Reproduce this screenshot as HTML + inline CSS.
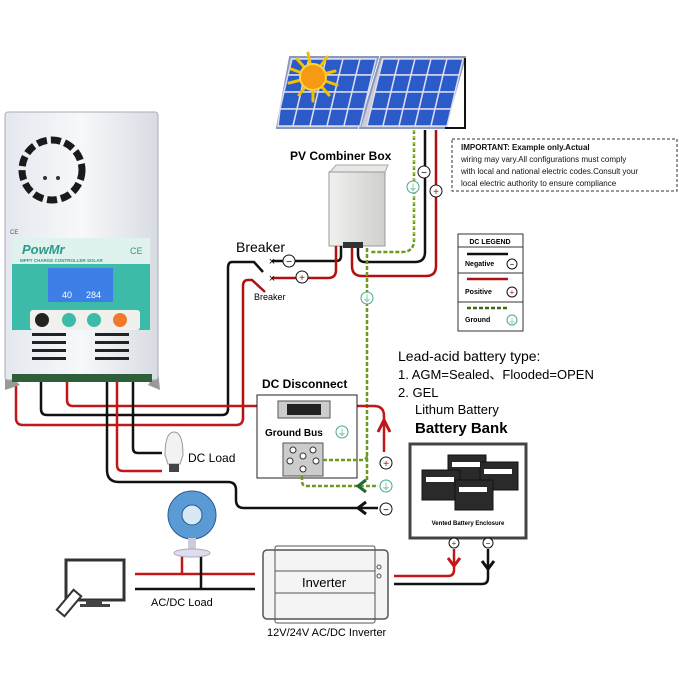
<!DOCTYPE html>
<html><head><meta charset="utf-8"><style>
html,body{margin:0;padding:0;background:#fff}
svg{display:block}
text{font-family:"Liberation Sans",sans-serif}
</style></head><body>
<svg width="679" height="679" viewBox="0 0 679 679" xmlns="http://www.w3.org/2000/svg">
<defs>
<linearGradient id="body" x1="0" x2="1"><stop offset="0" stop-color="#e4e8ee"/><stop offset="0.5" stop-color="#f7f8fa"/><stop offset="1" stop-color="#d8dce2"/></linearGradient>
<linearGradient id="cell" x1="0" y1="0" x2="1" y2="1"><stop offset="0" stop-color="#5d8fe0"/><stop offset="1" stop-color="#1d3f9e"/></linearGradient>
<linearGradient id="box" x1="0" x2="1"><stop offset="0" stop-color="#f0f0ee"/><stop offset="1" stop-color="#cfcfcb"/></linearGradient>
</defs>

<!-- Solar panels -->
<polygon points="290,57 378,57 357,128 277,128" fill="#ccd" stroke="#8899bb" stroke-width="2"/>
<polygon points="381,57 465,57 445,128 360,128" fill="#ccd" stroke="#8899bb" stroke-width="2"/>
<g fill="url(#cell)">
<!-- left panel cells -->
<g id="lp">
</g>
</g>
<g fill="#2a5bc8" stroke="#dde" stroke-width="1.5">
<polygon points="292,59 309,59 305,75 288,75"/><polygon points="309,59 326,59 322,75 305,75"/><polygon points="326,59 343,59 339,75 322,75"/><polygon points="343,59 360,59 356,75 339,75"/><polygon points="360,59 376,59 372,75 356,75"/>
<polygon points="288,75 305,75 301,92 284,92"/><polygon points="305,75 322,75 318,92 301,92"/><polygon points="322,75 339,75 335,92 318,92"/><polygon points="339,75 356,75 352,92 335,92"/><polygon points="356,75 372,75 368,92 352,92"/>
<polygon points="284,92 301,92 297,109 280,109"/><polygon points="301,92 318,92 314,109 297,109"/><polygon points="318,92 335,92 331,109 314,109"/><polygon points="335,92 352,92 348,109 331,109"/><polygon points="352,92 368,92 364,109 348,109"/>
<polygon points="280,109 297,109 293,126 278,126"/><polygon points="297,109 314,109 310,126 293,126"/><polygon points="314,109 331,109 327,126 310,126"/><polygon points="331,109 348,109 344,126 327,126"/><polygon points="348,109 364,109 360,126 344,126"/>
<polygon points="383,59 399,59 395,75 379,75"/><polygon points="399,59 415,59 411,75 395,75"/><polygon points="415,59 431,59 427,75 411,75"/><polygon points="431,59 447,59 443,75 427,75"/><polygon points="447,59 463,59 459,75 443,75"/>
<polygon points="379,75 395,75 391,92 375,92"/><polygon points="395,75 411,75 407,92 391,92"/><polygon points="411,75 427,75 423,92 407,92"/><polygon points="427,75 443,75 439,92 423,92"/><polygon points="443,75 459,75 455,92 439,92"/>
<polygon points="375,92 391,92 387,109 371,109"/><polygon points="391,92 407,92 403,109 387,109"/><polygon points="407,92 423,92 419,109 403,109"/><polygon points="423,92 439,92 435,109 419,109"/><polygon points="439,92 455,92 451,109 435,109"/>
<polygon points="371,109 387,109 383,126 367,126"/><polygon points="387,109 403,109 399,126 383,126"/><polygon points="403,109 419,109 415,126 399,126"/><polygon points="419,109 435,109 431,126 415,126"/><polygon points="435,109 451,109 447,126 431,126"/>
</g>
<polyline points="465,58 465,128 445,128" fill="none" stroke="#111" stroke-width="2"/>
<!-- sun -->
<g stroke="#f2c000" stroke-width="3" fill="none" stroke-linecap="round">
<path d="M313,77 l-5,-24 m5,24 l14,-20 m-14,20 l22,-6 m-22,6 l24,8 m-24,-8 l16,18 m-16,-18 l0,24 m0,-24 l-14,18 m14,-18 l-24,6 m24,-6 l-22,-8 m22,8 l-16,-18"/>
</g>
<circle cx="313" cy="77" r="13" fill="#f59a12" stroke="#ffd23a" stroke-width="2"/>

<!-- PV wires -->
<path d="M414,130 V240 Q414,252 402,252 H370" fill="none" stroke="#6a9a20" stroke-width="2.5" stroke-dasharray="4,2"/>
<path d="M414,130 V240" fill="none" stroke="#e8e070" stroke-width="1" stroke-dasharray="2,4"/>
<path d="M425,130 V252 Q425,262 415,262 H365 Q358,262 358,254 V246" fill="none" stroke="#111" stroke-width="2.5"/>
<path d="M436,130 V266 Q436,276 426,276 H362 Q352,276 352,266 V246" fill="none" stroke="#b01010" stroke-width="2.5"/>
<circle cx="424" cy="172" r="6" fill="#fff" stroke="#111"/><text x="424" y="176" font-size="10" text-anchor="middle">−</text>
<circle cx="436" cy="191" r="6" fill="#fff" stroke="#111"/><text x="436" y="195" font-size="10" fill="#b01010" text-anchor="middle">+</text>
<circle cx="413" cy="187" r="6" fill="#fff" stroke="#4a8"/><text x="413" y="191" font-size="9" fill="#4a8" text-anchor="middle">⏚</text>

<!-- combiner box -->
<text x="290" y="160" font-size="12" font-weight="bold">PV Combiner Box</text>
<polygon points="330,172 336,165 388,165 385,172" fill="#e8e8e6" stroke="#aaa"/>
<rect x="329" y="172" width="56" height="74" fill="url(#box)" stroke="#999"/>
<rect x="343" y="242" width="20" height="6" fill="#333"/>

<!-- breakers -->
<text x="236" y="252" font-size="14">Breaker</text>
<text x="254" y="300" font-size="9">Breaker</text>
<path d="M341,246 V256 Q341,261 336,261 H272" fill="none" stroke="#111" stroke-width="2.5"/>
<path d="M336,246 V270 Q336,278 328,278 H272" fill="none" stroke="#b01010" stroke-width="2.5"/>
<text x="272" y="265" font-size="11" text-anchor="middle">×</text>
<text x="272" y="282" font-size="11" text-anchor="middle">×</text>
<circle cx="289" cy="261" r="6" fill="#fff" stroke="#111"/><text x="289" y="265" font-size="10" text-anchor="middle">−</text>
<circle cx="302" cy="277" r="6" fill="#fff" stroke="#111"/><text x="302" y="281" font-size="10" fill="#b01010" text-anchor="middle">+</text>
<path d="M263,272 L254,262 H232 Q228,262 228,268 V410" fill="none" stroke="#111" stroke-width="2.5"/>
<path d="M265,292 L252,280 H248 Q243,280 243,286 V420" fill="none" stroke="#b01010" stroke-width="2.5"/>

<!-- ground down from combiner -->
<path d="M367,248 V480" fill="none" stroke="#6a9a20" stroke-width="2.5" stroke-dasharray="4,2"/>
<circle cx="367" cy="298" r="6" fill="#fff" stroke="#4a8"/><text x="367" y="302" font-size="9" fill="#4a8" text-anchor="middle">⏚</text>

<!-- controller wires -->
<path d="M16,380 V418 Q16,425 23,425 H236 Q243,425 243,418" fill="none" stroke="#c01818" stroke-width="2.5"/>
<path d="M41,380 V409 Q41,415 47,415 H222 Q228,415 228,409" fill="none" stroke="#111" stroke-width="2.5"/>
<path d="M67,380 V400 Q67,406 73,406 H374 Q384,406 384,416 V452" fill="none" stroke="#c01818" stroke-width="2.5"/>
<path d="M378,432 L384,420 L390,432" fill="none" stroke="#c01818" stroke-width="3"/>
<path d="M107,380 V470 Q107,482 119,482 H228 Q236,482 236,490 V500 Q236,508 244,508 H378" fill="none" stroke="#111" stroke-width="2.5"/>
<path d="M366,502 L358,508 L366,514" fill="none" stroke="#111" stroke-width="3"/>
<path d="M117,380 V465 Q117,471 123,471 H162" fill="none" stroke="#c01818" stroke-width="2.5"/>
<path d="M133,380 V448 Q133,453 138,453 H162" fill="none" stroke="#111" stroke-width="2.5"/>
<circle cx="386" cy="463" r="6" fill="#fff" stroke="#111"/><text x="386" y="467" font-size="10" fill="#b01010" text-anchor="middle">+</text>
<circle cx="386" cy="486" r="6" fill="#fff" stroke="#4a8"/><text x="386" y="490" font-size="9" fill="#4a8" text-anchor="middle">⏚</text>
<circle cx="386" cy="509" r="6" fill="#fff" stroke="#111"/><text x="386" y="513" font-size="10" text-anchor="middle">−</text>

<!-- bulb -->
<path d="M165,455 Q165,432 174,432 Q183,432 183,455 L180,464 H168 Z" fill="#f2f2f2" stroke="#999"/>
<rect x="169" y="464" width="10" height="8" fill="#444"/>
<text x="188" y="462" font-size="12">DC Load</text>

<!-- DC disconnect -->
<text x="262" y="388" font-size="12" font-weight="bold">DC Disconnect</text>
<rect x="257" y="395" width="100" height="83" fill="#fff" stroke="#222"/>
<path d="M67,406 H384" stroke="none"/>
<rect x="278" y="401" width="52" height="17" fill="#ccc" stroke="#555"/>
<rect x="287" y="404" width="34" height="11" fill="#222"/>
<text x="265" y="436" font-size="10" font-weight="bold">Ground Bus</text>
<circle cx="342" cy="432" r="6" fill="#fff" stroke="#4a8"/><text x="342" y="436" font-size="9" fill="#4a8" text-anchor="middle">⏚</text>
<rect x="283" y="443" width="40" height="33" fill="#ccc" stroke="#555"/>
<g fill="#fff" stroke="#333"><circle cx="293" cy="450" r="3"/><circle cx="313" cy="450" r="3"/><circle cx="290" cy="461" r="3"/><circle cx="303" cy="456" r="3"/><circle cx="316" cy="461" r="3"/><circle cx="303" cy="469" r="3"/></g>
<path d="M323,460 H362 Q367,460 367,455" fill="none" stroke="#6a9a20" stroke-width="2.5" stroke-dasharray="4,2"/>
<path d="M302,476 V481 Q302,486 307,486 H378" fill="none" stroke="#6a9a20" stroke-width="2.5" stroke-dasharray="4,2"/>
<path d="M366,480 L358,486 L366,492" fill="none" stroke="#1e6a30" stroke-width="3"/>

<!-- controller -->
<polygon points="5,370 20,385 5,390" fill="#999"/>
<polygon points="158,370 148,385 160,390" fill="#999"/>
<rect x="5" y="112" width="153" height="268" rx="3" fill="url(#body)" stroke="#aab"/>
<g fill="none" stroke="#1a1a1a" stroke-width="7" stroke-dasharray="10,4">
<circle cx="52" cy="170" r="30"/>
</g>
<circle cx="45" cy="178" r="2" fill="#333"/><circle cx="58" cy="178" r="2" fill="#333"/>
<text x="10" y="234" font-size="6" fill="#555">CE</text>
<rect x="12" y="238" width="138" height="92" fill="#3cbca8"/>
<rect x="12" y="238" width="138" height="26" fill="#dff2ee"/>
<text x="22" y="254" font-size="13" font-weight="bold" font-style="italic" fill="#2a9a8a">PowMr</text>
<text x="130" y="254" font-size="9" fill="#2a9a8a">CE</text>
<text x="20" y="262" font-size="4.5" font-weight="bold" fill="#2a9a8a">MPPT CHARGE CONTROLLER SOLAR</text>
<rect x="48" y="268" width="65" height="34" fill="#3d7fe6"/>
<text x="62" y="298" font-size="9" fill="#fff">40</text><text x="86" y="298" font-size="9" fill="#fff">284</text>
<rect x="30" y="310" width="110" height="20" rx="3" fill="#f0f0ec"/>
<circle cx="42" cy="320" r="7" fill="#222"/><circle cx="69" cy="320" r="7" fill="#3cbca8"/><circle cx="94" cy="320" r="7" fill="#3cbca8"/><circle cx="120" cy="320" r="7" fill="#f07a2a"/>
<g fill="#222"><rect x="32" y="333" width="34" height="3"/><rect x="32" y="341" width="34" height="3"/><rect x="32" y="349" width="34" height="3"/><rect x="32" y="357" width="34" height="3"/>
<rect x="95" y="333" width="34" height="3"/><rect x="95" y="341" width="34" height="3"/><rect x="95" y="349" width="34" height="3"/><rect x="95" y="357" width="34" height="3"/></g>
<rect x="12" y="374" width="140" height="8" fill="#2f5e3a"/>

<!-- IMPORTANT -->
<rect x="452" y="139" width="225" height="52" fill="#fff" stroke="#333" stroke-dasharray="3,2"/>
<g font-size="8" fill="#111"><text x="461" y="150" font-weight="bold">IMPORTANT: Example only.Actual</text>
<text x="461" y="162">wiring may vary.All configurations must comply</text>
<text x="461" y="174">with local and national electric codes.Consult your</text>
<text x="461" y="186">local electric authority to ensure compliance</text></g>

<!-- legend -->
<rect x="458" y="234" width="65" height="97" fill="#fff" stroke="#333"/>
<text x="490" y="244" font-size="7" font-weight="bold" text-anchor="middle">DC LEGEND</text>
<line x1="458" y1="247" x2="523" y2="247" stroke="#333"/>
<line x1="467" y1="254" x2="508" y2="254" stroke="#111" stroke-width="2.5"/>
<text x="465" y="266" font-size="7" font-weight="bold">Negative</text><circle cx="512" cy="264" r="5" fill="#fff" stroke="#111"/><text x="512" y="267" font-size="8" text-anchor="middle">−</text>
<line x1="458" y1="273" x2="523" y2="273" stroke="#333"/>
<line x1="467" y1="279" x2="508" y2="279" stroke="#b01010" stroke-width="2.5"/>
<text x="465" y="294" font-size="7" font-weight="bold">Positive</text><circle cx="512" cy="292" r="5" fill="#fff" stroke="#111"/><text x="512" y="295" font-size="8" fill="#b01010" text-anchor="middle">+</text>
<line x1="458" y1="302" x2="523" y2="302" stroke="#333"/>
<line x1="467" y1="308" x2="508" y2="308" stroke="#3a6a10" stroke-width="2.5" stroke-dasharray="4,2"/>
<text x="465" y="322" font-size="7" font-weight="bold">Ground</text><circle cx="512" cy="320" r="5" fill="#fff" stroke="#4a8"/><text x="512" y="323" font-size="7" fill="#4a8" text-anchor="middle">⏚</text>

<!-- battery text -->
<text x="398" y="361" font-size="14">Lead-acid battery type:</text>
<text x="398" y="379" font-size="13">1. AGM=Sealed、Flooded=OPEN</text>
<text x="398" y="397" font-size="13">2. GEL</text>
<text x="415" y="414" font-size="13">Lithum Battery</text>
<text x="415" y="433" font-size="15" font-weight="bold">Battery Bank</text>
<rect x="410" y="444" width="116" height="94" fill="#fff" stroke="#444" stroke-width="3"/>
<g fill="#2a2a2a" stroke="#111">
<rect x="448" y="455" width="38" height="28"/><rect x="480" y="462" width="38" height="28"/>
<rect x="422" y="470" width="38" height="30"/><rect x="455" y="480" width="38" height="30"/>
</g>
<g fill="#fff"><rect x="452" y="462" width="28" height="5"/><rect x="484" y="469" width="28" height="5"/><rect x="426" y="477" width="28" height="5"/><rect x="459" y="487" width="28" height="5"/></g>
<text x="468" y="525" font-size="6" font-weight="bold" text-anchor="middle">Vented Battery Enclosure</text>
<circle cx="454" cy="543" r="5" fill="#fff" stroke="#111"/><text x="454" y="546" font-size="8" fill="#b01010" text-anchor="middle">+</text>
<circle cx="488" cy="543" r="5" fill="#fff" stroke="#111"/><text x="488" y="546" font-size="8" text-anchor="middle">−</text>
<path d="M454,549 V570 Q454,576 448,576 H394" fill="none" stroke="#c01818" stroke-width="2.5"/>
<path d="M448,558 L454,566 L460,558" fill="none" stroke="#c01818" stroke-width="3"/>
<path d="M488,549 V578 Q488,584 482,584 H394" fill="none" stroke="#111" stroke-width="2.5"/>
<path d="M482,561 L488,569 L494,561" fill="none" stroke="#111" stroke-width="3"/>

<!-- inverter -->
<rect x="263" y="550" width="125" height="69" rx="4" fill="#f4f4f4" stroke="#555" stroke-width="1.5"/>
<rect x="275" y="546" width="100" height="77" rx="2" fill="none" stroke="#555"/>
<line x1="275" y1="571" x2="375" y2="571" stroke="#555"/>
<line x1="275" y1="593" x2="375" y2="593" stroke="#555"/>
<circle cx="379" cy="567" r="2" fill="none" stroke="#555"/><circle cx="379" cy="576" r="2" fill="none" stroke="#555"/>
<text x="324" y="587" font-size="13" text-anchor="middle">Inverter</text>
<text x="267" y="636" font-size="11">12V/24V AC/DC Inverter</text>

<!-- AC load -->
<line x1="135" y1="574" x2="255" y2="574" stroke="#c01818" stroke-width="2.5"/>
<line x1="135" y1="589" x2="255" y2="589" stroke="#111" stroke-width="2.5"/>
<line x1="182" y1="556" x2="182" y2="574" stroke="#c01818" stroke-width="2.5"/>
<line x1="201" y1="556" x2="201" y2="589" stroke="#111" stroke-width="2.5"/>
<text x="151" y="606" font-size="11">AC/DC Load</text>
<circle cx="192" cy="515" r="24" fill="#5b9bd5" stroke="#2a5a90"/>
<circle cx="192" cy="515" r="10" fill="#d8e8f4" stroke="#2a5a90"/>
<rect x="188" y="538" width="8" height="12" fill="#ccd"/>
<ellipse cx="192" cy="553" rx="18" ry="4" fill="#dde" stroke="#aab"/>
<!-- TV -->
<rect x="66" y="560" width="58" height="40" fill="#fff" stroke="#333" stroke-width="3"/>
<rect x="86" y="600" width="16" height="5" fill="#444"/>
<rect x="80" y="604" width="30" height="3" fill="#444"/>
<rect x="64" y="590" width="10" height="26" transform="rotate(40 69 603)" fill="#fff" stroke="#333" stroke-width="2"/>
</svg>
</body></html>
